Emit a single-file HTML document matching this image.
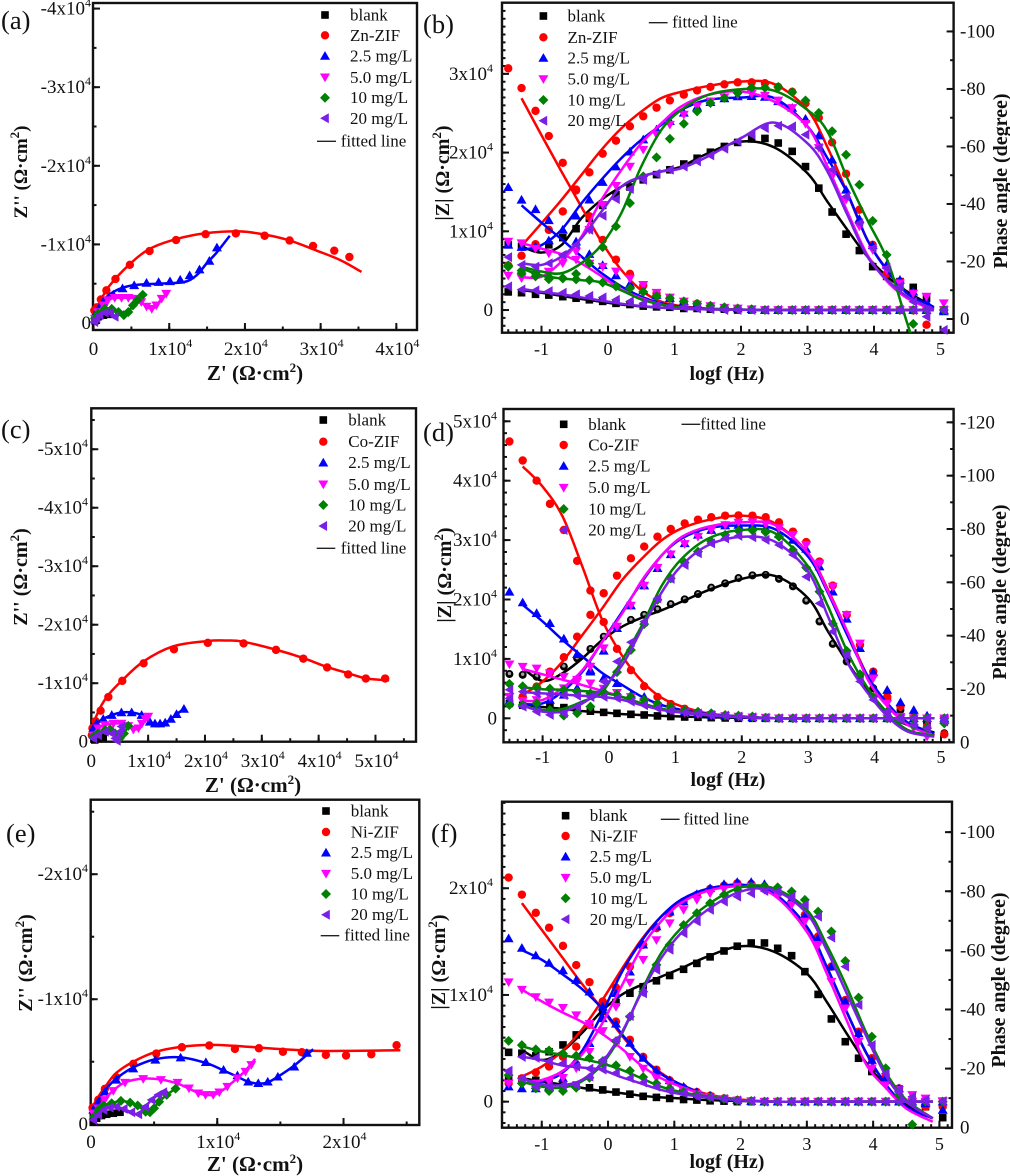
<!DOCTYPE html>
<html lang="en">
<head>
<meta charset="utf-8">
<title>Nyquist and Bode plots for Zn-ZIF, Co-ZIF and Ni-ZIF</title>
<style>
html,body{margin:0;padding:0;background:#fff;}
svg{display:block;font-family:"Liberation Serif",serif;filter:blur(0.35px);}
</style>
</head>
<body>
<svg id="figure" xmlns="http://www.w3.org/2000/svg" width="1010" height="1176" viewBox="0 0 1010 1176"></svg>
<script>
/* ---------- shared frequency grids (log10 Hz) ---------- */
const logf = [-1.5,-1.3,-1.09,-0.89,-0.68,-0.48,-0.28,-0.08,0.12,0.33,0.53,0.73,0.93,1.14,1.34,1.54,1.75,1.95,2.16,2.36,2.56,2.77,2.97,3.17,3.37,3.58,3.78,3.98,4.19,4.39,4.59,4.79,5.05];
const fitLogf = [-1.3,-1,-0.7,-0.4,-0.1,0.2,0.5,0.8,1.1,1.5,2,2.5,3,3.3,3.6,3.9,4.2,4.5,4.9];

/* ---------- tick values ---------- */
const nyquistTicksA = [0,1,2,3,4];
const nyquistTicksC = [0,1,2,3,4,5];
const nyquistTicksE = [0,1,2];
const logfTicks = [-1,0,1,2,3,4,5];
const modulusTicksB = [0,1,2,3];
const modulusTicksD = [0,1,2,3,4,5];
const modulusTicksF = [0,1,2];
const phaseTicksB = [0,-20,-40,-60,-80,-100];
const phaseTicksD = [0,-20,-40,-60,-80,-100,-120];
const phaseTicksF = [0,-20,-40,-60,-80,-100];

/* ---------- panel (a) Nyquist, 10^4 ohm cm2 ---------- */
const aBlankX = [0.02,0.06,0.13,0.22];
const aBlankY = [0.03,0.08,0.1,0.11];
const aZifX = [0.01,0.044,0.097,0.17,0.29,0.48,0.74,1.09,1.48,1.88,2.26,2.59,2.9,3.18,3.38];
const aZifY = [0.16,0.2,0.3,0.415,0.56,0.74,0.915,1.055,1.13,1.14,1.11,1.05,0.98,0.92,0.84];
const aZifFitX = [0.01,0.084,0.216,0.48,0.745,1.1,1.49,1.93,2.29,2.59,2.95,3.26,3.54];
const aZifFitY = [0.1,0.27,0.48,0.75,0.945,1.07,1.144,1.165,1.12,1.05,0.92,0.8,0.65];
const a25X = [0.02,0.062,0.128,0.26,0.383,0.537,0.7,0.86,1.01,1.145,1.27,1.4,1.53,1.63];
const a25Y = [0.1,0.18,0.27,0.36,0.44,0.48,0.51,0.52,0.53,0.55,0.606,0.68,0.79,0.96];
const a25FitX = [0.01,0.13,0.3,0.52,0.83,1.19,1.36,1.49,1.63,1.8];
const a25FitY = [0.08,0.29,0.415,0.48,0.5,0.52,0.606,0.754,0.9,1.11];
const a50X = [0.02,0.06,0.13,0.19,0.28,0.37,0.46,0.55,0.63,0.7,0.77,0.83,0.9,0.96];
const a50Y = [0.055,0.14,0.225,0.29,0.32,0.32,0.32,0.31,0.267,0.21,0.18,0.225,0.31,0.373];
const a10X = [0.02,0.06,0.15,0.24,0.33,0.4,0.46,0.52,0.58,0.65];
const a10Y = [0.055,0.12,0.18,0.18,0.14,0.1,0.14,0.225,0.29,0.36];
const a20X = [0.01,0.04,0.08,0.15,0.22,0.28];
const a20Y = [0.013,0.055,0.1,0.13,0.13,0.08];

/* ---------- panel (c) Nyquist ---------- */
const cBlankX = [0.06,0.12,0.21];
const cBlankY = [0.03,0.06,0.075];
const cZifX = [0.01,0.02,0.076,0.164,0.3,0.545,0.92,1.455,2.05,2.68,3.25,3.73,4.15,4.52,4.83,5.17];
const cZifY = [0.11,0.23,0.35,0.53,0.764,1.04,1.34,1.58,1.69,1.68,1.57,1.42,1.27,1.15,1.08,1.08];
const cZifFitX = [0.006,0.035,0.15,0.3,0.545,0.915,1.44,2.03,2.38,2.67,3.26,3.73,4.14,4.52,4.84,5.24];
const cZifFitY = [0.11,0.29,0.57,0.8,1.05,1.37,1.63,1.72,1.73,1.71,1.57,1.43,1.28,1.17,1.08,1.05];
const c25X = [0.035,0.094,0.21,0.36,0.53,0.71,0.885,1.03,1.12,1.21,1.3,1.4,1.5,1.63];
const c25Y = [0.23,0.31,0.39,0.456,0.5,0.5,0.456,0.34,0.31,0.31,0.325,0.39,0.47,0.56];
const c50X = [0.035,0.12,0.24,0.39,0.53,0.65,0.74,0.83,0.89,0.95,1.0];
const c50Y = [0.11,0.23,0.285,0.31,0.31,0.27,0.21,0.23,0.31,0.39,0.43];
const c10X = [0.035,0.12,0.24,0.33,0.42,0.5,0.575,0.65];
const c10Y = [0.085,0.14,0.2,0.21,0.14,0.057,0.14,0.27];
const c20X = [0.035,0.12,0.24,0.36,0.42,0.45,0.5,0.53];
const c20Y = [0.057,0.11,0.17,0.14,0.057,0.017,0.17,0.26];

/* ---------- panel (e) Nyquist ---------- */
const eBlankX = [0.018,0.045,0.084,0.124,0.177,0.23];
const eBlankY = [0.02,0.048,0.07,0.08,0.088,0.096];
const eZifX = [0.013,0.058,0.11,0.2,0.335,0.517,0.72,0.937,1.14,1.33,1.52,1.67,1.86,2.02,2.22,2.42];
const eZifY = [0.133,0.195,0.283,0.376,0.483,0.565,0.616,0.63,0.603,0.608,0.58,0.576,0.555,0.55,0.56,0.632];
const eZifFitX = [0.013,0.058,0.124,0.2,0.335,0.517,0.72,0.937,1.14,1.33,1.52,1.79,2.05,2.45];
const eZifFitY = [0.14,0.22,0.315,0.41,0.5,0.58,0.62,0.635,0.627,0.613,0.6,0.587,0.587,0.592];
const e25X = [0.018,0.058,0.11,0.2,0.335,0.51,0.71,0.91,1.05,1.16,1.245,1.325,1.4,1.48,1.61,1.71];
const e25Y = [0.115,0.18,0.26,0.355,0.445,0.515,0.533,0.496,0.435,0.39,0.34,0.328,0.34,0.38,0.46,0.57];
const e25FitX = [0.018,0.058,0.11,0.2,0.335,0.51,0.71,0.91,1.05,1.16,1.245,1.325,1.4,1.48,1.61,1.76];
const e25FitY = [0.115,0.19,0.27,0.365,0.455,0.52,0.535,0.49,0.43,0.38,0.34,0.325,0.335,0.38,0.47,0.6];
const e50X = [0.018,0.058,0.11,0.177,0.27,0.414,0.554,0.686,0.776,0.85,0.907,0.968,1.016,1.08,1.16,1.224,1.27];
const e50Y = [0.088,0.128,0.195,0.267,0.333,0.363,0.355,0.333,0.288,0.248,0.235,0.235,0.256,0.301,0.368,0.421,0.475];
const e50FitX = [0.018,0.058,0.11,0.177,0.27,0.414,0.554,0.686,0.776,0.85,0.907,0.968,1.016,1.08,1.16,1.224,1.3];
const e50FitY = [0.088,0.135,0.2,0.27,0.335,0.365,0.358,0.325,0.285,0.25,0.235,0.235,0.255,0.3,0.37,0.43,0.523];
const e10X = [0.026,0.058,0.1,0.164,0.237,0.31,0.37,0.433,0.467,0.5,0.54,0.6,0.67];
const e10Y = [0.06,0.115,0.15,0.168,0.187,0.173,0.15,0.1,0.096,0.128,0.18,0.235,0.285];
const e20X = [0.018,0.058,0.1,0.15,0.2,0.26,0.32,0.375,0.43,0.48,0.533,0.573];
const e20Y = [0.035,0.075,0.115,0.133,0.14,0.123,0.096,0.08,0.14,0.195,0.235,0.256];

/* ---------- panel (b) Bode: |Z| in 10^4, shorter arrays end on the zero baseline ---------- */
const bZBlank = [0.23,0.22,0.2,0.19,0.17,0.15,0.13,0.11,0.085,0.07,0.05,0.04,0.035,0.02,0.02,0.01,0.01];
const bZZif = [3.07,2.82,2.53,2.21,1.87,1.52,1.19,0.89,0.64,0.46,0.31,0.21,0.15,0.1,0.08,0.05,0.03,0.02,0.01];
const bZ25 = [1.56,1.4,1.28,1.14,1.02,0.87,0.71,0.57,0.44,0.33,0.25,0.19,0.15,0.11,0.08,0.05,0.03,0.02,0.01];
const bZ50 = [0.87,0.85,0.78,0.72,0.67,0.64,0.59,0.55,0.49,0.4,0.32,0.22,0.16,0.11,0.07,0.05,0.03,0.02,0.01];
const bZ10 = [0.55,0.5,0.47,0.42,0.4,0.39,0.38,0.35,0.3,0.275,0.23,0.18,0.15,0.11,0.08,0.055,0.035,0.02,0.01];
const bZ20 = [0.3,0.26,0.25,0.24,0.22,0.2,0.18,0.16,0.13,0.11,0.085,0.065,0.05,0.035,0.02,0.01];
const bPhaseBlank = [-25.8,-25.2,-24.6,-25.8,-28.3,-31.4,-35,-39.5,-43.2,-45.9,-48.4,-50.2,-51.9,-53.9,-55.9,-58,-60,-61.4,-62.6,-62.8,-61.2,-58.3,-53,-45.5,-37.2,-29.5,-23.8,-18.2,-14.8,-13,-11,-7.2,-3.1];
const bPhaseZif = [-18.6,-22,-26,-31,-37.4,-45,-51,-57.5,-62,-67,-70.5,-73.5,-76,-78,-79.5,-80.7,-81.6,-82.3,-82.3,-82,-80.7,-79,-75,-70,-61.4,-50.5,-38,-25.8,-15.7,-13,-3,2,-3];
const bPhase25 = [-25.8,-25,-25.2,-27.3,-31,-35.9,-41.5,-47.6,-53,-58.2,-62.4,-65.9,-68.8,-71.7,-73.8,-75.4,-76.7,-77.4,-77.5,-77.2,-75.7,-73.4,-69.6,-63.8,-55.4,-44.9,-34.8,-25.6,-18.8,-13.6,-9.5,-6,-2.6];
const bPhase50 = [-15.1,-14.2,-14.8,-16.5,-19.4,-23.5,-31,-39.7,-46.3,-53,-58.9,-64.1,-67.6,-71.1,-74,-75.7,-77.1,-78,-78.3,-77.7,-76,-73.4,-67.9,-59.5,-49.6,-41.5,-32.2,-24,-17,-12.4,-8.9,-7.8,-5.5];
const bPhase10 = [-18.6,-15.9,-14.8,-13.8,-14.2,-15.7,-19.4,-25,-32.2,-40.3,-49.6,-56.2,-62.7,-67.9,-72.2,-75.1,-76.9,-78.6,-80.4,-80.4,-80.7,-78.9,-76,-71.7,-65.3,-57.1,-46.7,-34.1,-22.3,-10.7,1.7];
const bPhase20 = [-21.5,-18.8,-18.2,-19.4,-22.3,-25.8,-31,-35.9,-41.7,-45.2,-48.4,-50.5,-51.9,-53,-54.8,-56.9,-59.2,-61.8,-64.1,-66.4,-67.2,-67,-64.1,-59.5,-51.9,-42.6,-33.3,-24.6,-17.7,-11.3,-6,-0.8,3.8];
const bFitZBlank = [0.255,0.22,0.18,0.14,0.105,0.07,0.047,0.03,0.017,0.008,0.003];
const bFitZZif = [2.69,2.22,1.76,1.31,0.87,0.51,0.25,0.106,0.05,0.02,0.005];
const bFitZ25 = [1.33,1.11,0.9,0.68,0.47,0.3,0.17,0.085,0.04,0.015,0.005];
const bFitZ50 = [0.85,0.78,0.71,0.59,0.43,0.26,0.15,0.07,0.03,0.015,0.005];
const bFitZ10 = [0.53,0.44,0.4,0.38,0.35,0.25,0.135,0.07,0.03,0.013,0.005];
const bFitZ20 = [0.27,0.23,0.2,0.16,0.12,0.08,0.05,0.03,0.017,0.008,0.003];
const bFitPhaseBlank = [-25.2,-23.1,-25.7,-35,-41.4,-46,-49.5,-51.3,-53,-57.6,-61.7,-59.7,-50.7,-40.8,-31,-21.7,-14.7,-9.5,-4.1];
const bFitPhaseZif = [-25.4,-33.3,-41.4,-50.1,-58.8,-66.3,-72.1,-76.8,-79,-81,-82.6,-81.7,-72.7,-59.7,-43.7,-27.5,-17,-8.9,-3.7];
const bFitPhase25 = [-24,-25.7,-31,-40.2,-48.4,-55.9,-62.3,-67.5,-72.7,-76.2,-77,-76.8,-67,-55.9,-43.7,-27.5,-16.8,-8.9,-4.1];
const bFitPhase50 = [-14.5,-14.7,-20,-28.6,-41.4,-51.8,-61.1,-68,-73.9,-77.9,-79.1,-75.6,-66.9,-53,-37.3,-22.3,-13,-7.2,-3.1];
const bFitPhase10 = [-18.2,-16.5,-15.9,-19.4,-25.7,-36.8,-53,-65.7,-72.7,-77.9,-79.9,-79.4,-72.7,-65.2,-48.9,-34.4,-20.5,1.5,30];
const bFitPhase20 = [-19.4,-18.8,-21.7,-28.1,-37.3,-46,-49.5,-51.3,-52.4,-56.5,-62.9,-68.3,-61.1,-51.3,-36.2,-21.7,-13.6,-7.8,-3.4];

/* ---------- panel (d) Bode ---------- */
const dZBlank = [0.25,0.22,0.2,0.19,0.18,0.16,0.12,0.1,0.084,0.067,0.056,0.04,0.03,0.022,0.017,0.011,0.006];
const dZZif = [4.66,4.34,4.0,3.61,3.17,2.65,2.15,1.62,1.17,0.81,0.54,0.36,0.24,0.16,0.1,0.07,0.045,0.03,0.02,0.01];
const dZ25 = [2.13,1.95,1.77,1.6,1.34,1.08,0.81,0.68,0.59,0.39,0.36,0.25,0.16,0.11,0.08,0.056,0.04,0.03,0.017,0.01];
const dZ50 = [0.91,0.87,0.84,0.76,0.7,0.65,0.59,0.5,0.43,0.36,0.28,0.2,0.14,0.1,0.07,0.056,0.04,0.03,0.017,0.01];
const dZ10 = [0.58,0.54,0.52,0.5,0.48,0.45,0.42,0.44,0.4,0.36,0.31,0.25,0.19,0.14,0.11,0.084,0.056,0.045,0.03,0.01];
const dZ20 = [0.48,0.45,0.42,0.41,0.39,0.38,0.36,0.36,0.34,0.28,0.22,0.17,0.13,0.1,0.08,0.056,0.045,0.03,0.017,0.01];
const dPhaseBlank = [-25.6,-25.3,-24.6,-26.1,-28.4,-31.5,-35,-39.6,-43,-45.9,-47.8,-49.9,-51.8,-53.6,-55.6,-58,-59.6,-61.6,-62.6,-62.8,-61.3,-58.5,-53.1,-45.3,-36.9,-30.3,-25.3,-20.3,-16.5,-12.1,-9.6,-7.1,-3.4];
const dPhaseZif = [-14.3,-17.1,-20.9,-26.5,-31.9,-39.6,-47.8,-55.9,-62.5,-69,-73.4,-77.1,-80,-82.1,-83.5,-84.4,-85,-85.1,-85,-84.4,-82.5,-79,-75.1,-67.8,-58.8,-47.8,-36.5,-26.5,-17.1,-13.4,-9.6,-5.9,-3];
const dPhase25 = [-15.5,-14.6,-14,-15.9,-17.8,-20.3,-26.5,-34.3,-42.8,-51.3,-58.8,-65.3,-70.5,-74.6,-77.8,-79.6,-81.3,-81.5,-81.3,-80.3,-78,-75.9,-72.5,-65.9,-56.5,-46.3,-35.3,-26.3,-19.6,-15,-12.1,-10,-8.4];
const dPhase50 = [-17.1,-15.5,-15.9,-17.1,-20.3,-22.8,-28.4,-35.3,-43.4,-51.3,-58.8,-65.5,-70.5,-74.4,-77.1,-79.6,-81.5,-82.4,-82.5,-81.8,-80.3,-77.8,-74,-67.1,-58.4,-47.8,-37.1,-24,-14.6,-9.6,-5.3,-2.1,-8.4];
const dPhase10 = [-14,-14,-14.6,-12.1,-10,-10.9,-13.4,-18.4,-26.3,-34.6,-44.3,-53.4,-61.5,-67.4,-71.5,-75.3,-77.8,-79.3,-79.5,-78.8,-77.1,-72.1,-65.5,-56.5,-44.4,-34.3,-25.5,-17.1,-11.5,-8.4,-6.5,-5.3,-7.1];
const dPhase20 = [-16.5,-13.4,-11.5,-10.3,-10.9,-13.4,-17.1,-22.8,-30.3,-37.5,-45.3,-54,-61.3,-66.5,-70.9,-74.6,-76.5,-77.4,-76.9,-75.9,-74,-70.3,-62.1,-52.1,-41.5,-32.8,-22.8,-15.9,-11.5,-8.4,-6.5,-5.3,-7.8];
const dFitZBlank = [0.22,0.19,0.16,0.12,0.1,0.07,0.056,0.04,0.03,0.017,0.01];
const dFitZZif = [4.24,3.9,3.4,2.55,1.65,1.05,0.62,0.34,0.2,0.08,0.03];
const dFitZ25 = [1.91,1.63,1.32,1.04,0.76,0.56,0.36,0.22,0.14,0.07,0.03];
const dFitZ50 = [0.83,0.74,0.65,0.56,0.46,0.36,0.25,0.16,0.11,0.06,0.02];
const dFitZ10 = [0.52,0.49,0.48,0.46,0.43,0.36,0.25,0.16,0.1,0.05,0.02];
const dFitZ20 = [0.44,0.42,0.4,0.38,0.36,0.31,0.22,0.14,0.095,0.05,0.02];
const dFitPhaseBlank = [-27.8,-23,-25.9,-31.5,-38.4,-43.4,-46.8,-49.6,-52.8,-57.1,-61.3,-62.4,-54,-41.5,-29.6,-19,-10.2,-6.5,-3.7];
const dFitPhaseZif = [-17.8,-22.8,-30.3,-40.3,-50.3,-60.9,-69,-75.9,-80.3,-83.4,-85,-82.1,-70.9,-57.1,-40.9,-24.6,-14,-7.1,-2.7];
const dFitPhase25 = [-14.3,-14.6,-19,-26.5,-37.8,-49,-60.3,-70.3,-76.5,-80.3,-81.3,-79.9,-69.6,-55.9,-39.6,-24.6,-14.4,-7.4,-3.3];
const dFitPhase50 = [-15.5,-15.9,-20.3,-27.1,-37.8,-48.4,-60.9,-70.3,-77.1,-80.9,-82.5,-81.5,-70.9,-56.5,-40.9,-23.4,-13.3,-6.5,-2.4];
const dFitPhase10 = [-13.8,-12.1,-12.5,-15.3,-19,-30.9,-44,-59,-69,-76.5,-79.6,-78.4,-65.9,-50.9,-33.4,-20.2,-10.9,-4.6,-2.4];
const dFitPhase20 = [-13.8,-11.5,-11.5,-14.6,-20.3,-29,-42.8,-56.5,-66.5,-74,-77.1,-75.2,-64,-47.1,-29.6,-18.4,-9.6,-4,-2.1];

/* ---------- panel (f) Bode ---------- */
const fZBlank = [0.22,0.21,0.2,0.19,0.17,0.155,0.13,0.11,0.09,0.07,0.05,0.04,0.03,0.02,0.015,0.008,0.005];
const fZZif = [2.1,1.94,1.77,1.63,1.46,1.28,1.12,0.93,0.75,0.58,0.42,0.3,0.2,0.13,0.09,0.056,0.03,0.015,0.006];
const fZ25 = [1.53,1.44,1.37,1.3,1.23,1.14,1.03,0.89,0.73,0.55,0.41,0.29,0.2,0.14,0.09,0.056,0.03,0.015,0.006];
const fZ50 = [1.12,1.05,0.98,0.93,0.88,0.81,0.73,0.66,0.55,0.42,0.31,0.22,0.16,0.1,0.07,0.044,0.025,0.012,0.006];
const fZ10 = [0.57,0.53,0.49,0.48,0.45,0.43,0.41,0.38,0.34,0.29,0.23,0.17,0.125,0.09,0.06,0.04,0.025,0.012,0.006];
const fZ20 = [0.29,0.42,0.41,0.38,0.36,0.33,0.31,0.3,0.27,0.22,0.18,0.14,0.1,0.08,0.05,0.04,0.025,0.012,0.006];
const fPhaseBlank = [-25.5,-25.2,-24.3,-25.7,-28,-31.4,-35,-39.3,-42.4,-45.5,-47.7,-49.7,-51.5,-53.6,-55.6,-57.8,-59.8,-61.4,-62.5,-62.5,-60.7,-58.2,-52.8,-45.1,-36.8,-29.1,-23.5,-19,-16.1,-13.1,-9.4,-7.1,-3.4];
const fPhaseZif = [-15,-16.7,-18.7,-20.7,-24,-27.4,-34.8,-42.7,-47.4,-54.5,-61.9,-67.5,-72.6,-76.5,-78.8,-80.8,-81.9,-82.7,-82.5,-81.6,-79.3,-76.5,-72,-64.7,-54.5,-43.2,-32.5,-23.5,-17.8,-13.3,-9.4,-7.1,-7.1];
const fPhase25 = [-13.9,-13.3,-13.3,-13.9,-16.7,-22.3,-28.6,-37,-45.5,-52.8,-61.9,-68.1,-73.1,-76.5,-79,-81,-82.4,-83.1,-83.1,-82.4,-79.9,-77.1,-71.8,-64.1,-54.5,-42.7,-31.9,-22.9,-16.7,-13.3,-9.9,-8.2,-6];
const fPhase50 = [-15,-15.6,-15,-15.6,-16.9,-20.1,-25.7,-32.7,-40.9,-49.1,-56.8,-63.5,-69.2,-73.7,-77.1,-79.3,-80.7,-81.6,-81.6,-80.5,-78.8,-75.4,-69.8,-61.9,-49.4,-40.4,-29.1,-20.1,-14.4,-12.8,-11.1,-9.9,-9];
const fPhase10 = [-17.8,-15,-13.3,-12.4,-12.4,-13.5,-16.9,-21.8,-29.3,-37.6,-46,-55.1,-61.9,-68.6,-72.6,-76,-78.8,-80.5,-81.6,-81.6,-81.3,-79.9,-77.1,-73.1,-66.4,-56.4,-44,-30.8,-20.1,-11.1,-1.1];
const fPhase20 = [-19,-16.7,-13.9,-13.9,-14.4,-14.4,-17.3,-22.9,-29.7,-37.8,-45.5,-53.4,-60.2,-65.8,-69.8,-73.7,-76.5,-78.2,-79.3,-80.1,-79.9,-78.2,-75.4,-71.4,-64.3,-54.5,-41.5,-28,-18.4,-12.8,-10.5,-9.4,-9];
const fFitZBlank = [0.22,0.19,0.16,0.13,0.1,0.08,0.056,0.04,0.03,0.016,0.006];
const fFitZZif = [1.86,1.61,1.36,1.11,0.875,0.625,0.42,0.27,0.16,0.07,0.02];
const fFitZ25 = [1.42,1.33,1.2,1.06,0.88,0.64,0.42,0.26,0.16,0.06,0.015];
const fFitZ50 = [1.05,0.94,0.84,0.75,0.64,0.5,0.34,0.22,0.14,0.06,0.015];
const fFitZ10 = [0.52,0.47,0.44,0.4,0.36,0.3,0.22,0.14,0.09,0.05,0.015];
const fFitZ20 = [0.42,0.39,0.34,0.32,0.3,0.23,0.17,0.11,0.07,0.04,0.012];
const fFitPhaseBlank = [-26.3,-22.9,-25.7,-31.9,-39.3,-44.9,-48.3,-51.1,-53.9,-57.9,-61.4,-59.6,-52.2,-42.6,-31.9,-21.8,-13.9,-7.7,-3.2];
const fFitPhaseZif = [-17.3,-20.7,-25.7,-33.1,-42.7,-53.4,-63.5,-71.4,-76.5,-80.5,-82.2,-79.1,-67.8,-54.3,-39.1,-25,-14.4,-7.1,-3.2];
const fFitPhase25 = [-15.2,-15.6,-18.4,-25.7,-38.1,-52.3,-63,-71.4,-77.1,-80.8,-82.2,-79.3,-68,-54.5,-39.3,-25.2,-14.4,-7.1,-3.2];
const fFitPhase50 = [-15,-16.1,-19,-24.6,-34.8,-47.7,-60.7,-69.8,-76,-80.1,-81.6,-78.7,-66.3,-52.2,-36.4,-21.2,-13.3,-6.5,-2];
const fFitPhase10 = [-15.6,-13.9,-13.5,-15.6,-21.2,-31.4,-46,-59,-67.5,-75.4,-81.3,-81,-73.7,-61.8,-47.7,-31.9,-18.4,-9.4,-3.2];
const fFitPhase20 = [-16.7,-14.7,-14.4,-16.1,-21.8,-31.9,-45.5,-57.3,-65.8,-73.7,-79.9,-80.4,-72.5,-60.1,-45.5,-30.8,-17.3,-8.8,-3.2];

/* ---------- styling ---------- */
const NS = 'http://www.w3.org/2000/svg';
const svg = document.getElementById('figure');
const COLORS = ['#000000','#ff0000','#0000ff','#ff00ff','#008000','#7a1fe6'];
const SHAPES = ['square','circle','up','down','diamond','left'];
const SLUGS = ['blank','zif','2-5-mg-l','5-0-mg-l','10-mg-l','20-mg-l'];

function make(parent, tag, attrs, text) {
  const e = document.createElementNS(NS, tag);
  for (const k in attrs) e.setAttribute(k, attrs[k]);
  if (text !== undefined) e.textContent = text;
  parent.appendChild(e);
  return e;
}
function scale(d0, d1, r0, r1) { return v => r0 + (v - d0) * (r1 - r0) / (d1 - d0); }

function marker(parent, shape, x, y, color, name) {
  let e;
  if (shape === 'square') e = make(parent, 'rect', {x:x-3.8, y:y-3.8, width:7.6, height:7.6, fill:color});
  else if (shape === 'circle') e = make(parent, 'circle', {cx:x, cy:y, r:4.2, fill:color});
  else if (shape === 'sphere') {
    e = make(parent, 'g', {});
    make(e, 'circle', {cx:x, cy:y, r:4, fill:color});
    make(e, 'circle', {cx:x, cy:y-0.6, r:1.7, fill:'#a0a0a0'});
  }
  else {
    let p;
    if (shape === 'up') p = [[x,y-4.9],[x+5,y+3.8],[x-5,y+3.8]];
    if (shape === 'down') p = [[x,y+4.9],[x+5,y-3.8],[x-5,y-3.8]];
    if (shape === 'left') p = [[x-4.9,y],[x+3.8,y-5],[x+3.8,y+5]];
    if (shape === 'diamond') p = [[x,y-5],[x+5,y],[x,y+5],[x-5,y]];
    e = make(parent, 'polygon', {points:p.map(q => q.join(',')).join(' '), fill:color});
  }
  
  
  return e;
}

function smoothPath(pts) {
  let d = 'M' + pts[0][0].toFixed(2) + ' ' + pts[0][1].toFixed(2);
  for (let i = 0; i < pts.length - 1; i++) {
    const p0 = pts[i-1] || pts[i], p1 = pts[i], p2 = pts[i+1], p3 = pts[i+2] || p2;
    const c1 = [p1[0] + (p2[0]-p0[0])/6, p1[1] + (p2[1]-p0[1])/6];
    const c2 = [p2[0] - (p3[0]-p1[0])/6, p2[1] - (p3[1]-p1[1])/6];
    d += 'C' + [c1[0],c1[1],c2[0],c2[1],p2[0],p2[1]].map(n => n.toFixed(2)).join(' ');
  }
  return d;
}

function fitLine(parent, pts, color, clipId, name) {
  const e = make(parent, 'path', {d:smoothPath(pts), fill:'none', stroke:color, 'stroke-width':2.5, 'stroke-linejoin':'round', 'clip-path':'url(#' + clipId + ')'});
  
  
}

function powerLabel(parent, x, y, anchor, prefix, mant, name) {
  const t = make(parent, 'text', {x:x, y:y, 'text-anchor':anchor, 'font-size':19, fill:'#111'});
  
  
  if (mant === 0) { t.textContent = '0'; return t; }
  make(t, 'tspan', {}, prefix + mant + 'x10');
  make(t, 'tspan', {dy:-8, 'font-size':12}, '4');
  return t;
}

function title(parent, x, y, rotate, before, sup, after, name, size) {
  const t = make(parent, 'text', {x:x, y:y, 'text-anchor':'middle', 'font-size':size || 20, 'font-weight':'bold', fill:'#111'});
  if (rotate) t.setAttribute('transform', 'rotate(-90 ' + x + ' ' + y + ')');
  
  
  make(t, 'tspan', {}, before);
  if (sup) {
    make(t, 'tspan', {dy:-8, 'font-size':13}, sup);
    make(t, 'tspan', {dy:8}, after);
  }
}

function frameAndClip(g, id, f) {
  const defs = make(g, 'defs', {});
  const c = make(defs, 'clipPath', {id:id});
  make(c, 'rect', {x:f.l, y:f.t, width:f.r-f.l, height:f.b-f.t});
  const box = make(g, 'rect', {x:f.l, y:f.t, width:f.r-f.l, height:f.b-f.t, fill:'none', stroke:'#111', 'stroke-width':2.4});
  
  
}

function ticks(g, side, f, scaleFn, majors, minorStep, axisName) {
  const group = make(g, 'g', {stroke:'#111', 'stroke-width':2});
  
  
  const draw = (p, len) => {
    if (side === 'left') make(group, 'line', {x1:f.l, x2:f.l+len, y1:p, y2:p});
    if (side === 'right') make(group, 'line', {x1:f.r, x2:f.r-len, y1:p, y2:p});
    if (side === 'bottom') make(group, 'line', {x1:p, x2:p, y1:f.b, y2:f.b-len});
  };
  const lo = side === 'bottom' ? f.l : f.t, hi = side === 'bottom' ? f.r : f.b;
  const start = majors[0], sign = majors[1] > majors[0] ? 1 : -1;
  for (let s = -60; s < 400; s++) {
    const v = start + sign * s * minorStep, p = scaleFn(v);
    if (p > lo + 1 && p < hi - 1) draw(p, 3.5);
  }
  majors.forEach(m => draw(scaleFn(m), 7));
}

function legend(g, L, zifName) {
  const names = ['blank', zifName, '2.5 mg/L', '5.0 mg/L', '10 mg/L', '20 mg/L'];
  names.forEach((n, i) => {
    marker(g, SHAPES[i], L.mx, L.ys[i], COLORS[i], 'legend-marker-' + SLUGS[i]);
    const t = make(g, 'text', {x:L.tx, y:L.ys[i]+5.5, 'font-size':17, fill:'#111'}, n);
    
    
  });
  const dash = make(g, 'line', {x1:L.d0, x2:L.d1, y1:L.dy, y2:L.dy, stroke:'#222', 'stroke-width':1.4});
  
  
  const ft = make(g, 'text', {x:L.dtx, y:L.dy+5, 'font-size':17, fill:'#111'}, 'fitted line');
  
  
}

function panelLabel(g, P) {
  const t = make(g, 'text', {x:P.lx, y:P.ly, 'font-size':26.5, fill:'#111'}, P.label);
  
  
}

/* ---------- Nyquist panel ---------- */
function nyquist(P) {
  const g = make(svg, 'g', {});
  
  
  const f = P.frame, clip = 'clip-' + P.id;
  const sx = scale(P.xd[0], P.xd[1], f.l, f.r), sy = scale(P.yd[0], P.yd[1], f.b, f.t);
  frameAndClip(g, clip, f);
  ticks(g, 'bottom', f, sx, P.ticks, 0.5, 'x-axis-ticks');
  ticks(g, 'left', f, sy, P.yticks, 0.5, 'y-axis-ticks');
  P.series.forEach((S, i) => {
    S.x.forEach((v, k) => marker(g, SHAPES[i], sx(v), sy(S.y[k]), COLORS[i], 'point-' + SLUGS[i]));
    const fx = S.fx || S.x, fy = S.fy || S.y;
    fitLine(g, fx.map((v, k) => [sx(v), sy(fy[k])]), COLORS[i], clip, 'fit-line-' + SLUGS[i]);
  });
  P.ticks.forEach(v => powerLabel(g, sx(v) + (v === 0 ? 0 : 1), P.xlabY, 'middle', '', v, 'x-tick-label'));
  P.yticks.forEach(v => powerLabel(g, P.ylabX, sy(v) + 6, 'end', '-', v, 'y-tick-label'));
  title(g, P.xt[0], P.xt[1], false, "Z' (Ω·cm", '2', ')', 'x-axis-title', 21);
  title(g, P.yt[0], P.yt[1], true, "Z'' (Ω·cm", '2', ')', 'y-axis-title', P.ytSize);
  legend(g, P.legend, P.zif);
  panelLabel(g, P);
}

/* ---------- Bode panel ---------- */
function bode(P) {
  const g = make(svg, 'g', {});
  
  
  const f = P.frame, clip = 'clip-' + P.id;
  const sx = scale(P.xd[0], P.xd[1], f.l, f.r);
  const sz = scale(P.zd[0], P.zd[1], f.b, f.t);
  const sp = scale(P.pd[0], P.pd[1], f.b, f.t);
  frameAndClip(g, clip, f);
  ticks(g, 'bottom', f, sx, logfTicks, 0.125, 'x-axis-ticks');
  ticks(g, 'left', f, sz, P.zticks, P.zminor, 'modulus-axis-ticks');
  ticks(g, 'right', f, sp, P.pticks, 10, 'phase-axis-ticks');
  P.series.forEach((S, i) => {
    logf.forEach((l, k) => {
      const z = S.z[k] === undefined ? 0 : S.z[k];
      marker(g, SHAPES[i], sx(l), sz(z), COLORS[i], 'modulus-point-' + SLUGS[i]);
      if (S.p[k] !== undefined) {
        marker(g, (i === 0 && P.sphere) ? 'sphere' : SHAPES[i], sx(l), sp(S.p[k]), COLORS[i], 'phase-point-' + SLUGS[i]);
      }
    });
    fitLine(g, fitLogf.map((l, k) => [sx(l), sz(S.fz[k] === undefined ? 0 : S.fz[k])]), COLORS[i], clip, 'modulus-fit-line-' + SLUGS[i]);
    fitLine(g, fitLogf.map((l, k) => [sx(l), sp(S.fp[k])]), COLORS[i], clip, 'phase-fit-line-' + SLUGS[i]);
  });
  logfTicks.forEach(v => {
    const t = make(g, 'text', {x:sx(v), y:P.xlabY, 'text-anchor':'middle', 'font-size':18, fill:'#111'}, String(v));
    
    
  });
  P.zticks.forEach(v => powerLabel(g, P.zlabX, sz(v) + 6, 'end', '', v, 'modulus-tick-label'));
  P.pticks.forEach(v => {
    const t = make(g, 'text', {x:960, y:sp(v) + 6, 'font-size':19, fill:'#111'}, String(v));
    
    
  });
  title(g, P.xt[0], P.xt[1], false, 'logf (Hz)', null, null, 'x-axis-title');
  title(g, P.zt[0], P.zt[1], true, '|Z| (Ω·cm', '2', ')', 'modulus-axis-title');
  title(g, P.pt[0], P.pt[1], true, 'Phase angle (degree)', null, null, 'phase-axis-title');
  legend(g, P.legend, P.zif);
  panelLabel(g, P);
}

/* ---------- panels ---------- */
nyquist({id:'a', label:'(a)', lx:1, ly:29, zif:'Zn-ZIF', ytSize:19,
  frame:{l:93,r:417,t:3,b:330}, xd:[-0.007,4.273], yd:[-0.089,4.071],
  ticks:nyquistTicksA, yticks:nyquistTicksA, xlabY:355, ylabX:91, xt:[255,380], yt:[27,172],
  legend:{mx:325, tx:350, ys:[15,35.3,56,77.3,97.7,118.3], d0:317, d1:336, dy:141.3, dtx:340.7},
  series:[
    {x:aBlankX,y:aBlankY},{x:aZifX,y:aZifY,fx:aZifFitX,fy:aZifFitY},{x:a25X,y:a25Y,fx:a25FitX,fy:a25FitY},
    {x:a50X,y:a50Y},{x:a10X,y:a10Y},{x:a20X,y:a20Y}]});

nyquist({id:'c', label:'(c)', lx:1, ly:438, zif:'Co-ZIF', ytSize:20,
  frame:{l:91.3,r:416,t:408.3,b:741.7}, xd:[0,5.713], yd:[0,5.7],
  ticks:nyquistTicksC, yticks:nyquistTicksC, xlabY:767, ylabX:88, xt:[253,792], yt:[27,577],
  legend:{mx:323.3, tx:348.3, ys:[420,441.7,462.7,484.3,505,526], d0:316.7, d1:335.3, dy:548.3, dtx:340.7},
  series:[
    {x:cBlankX,y:cBlankY},{x:cZifX,y:cZifY,fx:cZifFitX,fy:cZifFitY},{x:c25X,y:c25Y},
    {x:c50X,y:c50Y},{x:c10X,y:c10Y},{x:c20X,y:c20Y}]});

nyquist({id:'e', label:'(e)', lx:6, ly:842, zif:'Ni-ZIF', ytSize:20,
  frame:{l:90.7,r:419.3,t:799.7,b:1125}, xd:[-0.002,2.6], yd:[-0.006,2.596],
  ticks:nyquistTicksE, yticks:nyquistTicksE, xlabY:1148, ylabX:88, xt:[255,1171], yt:[32,963],
  legend:{mx:326, tx:350.7, ys:[811,832,852.7,873.7,894,914.7], d0:320.7, d1:339.3, dy:935.7, dtx:344.3},
  series:[
    {x:eBlankX,y:eBlankY},{x:eZifX,y:eZifY,fx:eZifFitX,fy:eZifFitY},{x:e25X,y:e25Y,fx:e25FitX,fy:e25FitY},
    {x:e50X,y:e50Y,fx:e50FitX,fy:e50FitY},{x:e10X,y:e10Y},{x:e20X,y:e20Y}]});

bode({id:'b', label:'(b)', lx:423, ly:33, zif:'Zn-ZIF', zlabX:493,
  frame:{l:502,r:953.6,t:2.7,b:332.7}, xd:[-1.594,5.197], zd:[-0.288,3.904], pd:[4.77,-110],
  zticks:modulusTicksB, zminor:0.1, pticks:phaseTicksB, xlabY:355, xt:[727,380], zt:[449,173], pt:[1007,181],
  legend:{mx:543.4, tx:567.5, ys:[16,37.3,58,79,100,120.7], d0:648.8, d1:667.6, dy:22.7, dtx:672.1},
  series:[
    {z:bZBlank,p:bPhaseBlank,fz:bFitZBlank,fp:bFitPhaseBlank},
    {z:bZZif,p:bPhaseZif,fz:bFitZZif,fp:bFitPhaseZif},
    {z:bZ25,p:bPhase25,fz:bFitZ25,fp:bFitPhase25},
    {z:bZ50,p:bPhase50,fz:bFitZ50,fp:bFitPhase50},
    {z:bZ10,p:bPhase10,fz:bFitZ10,fp:bFitPhase10},
    {z:bZ20,p:bPhase20,fz:bFitZ20,fp:bFitPhase20}]});

bode({id:'d', label:'(d)', lx:423, ly:441, zif:'Co-ZIF', sphere:true, zlabX:497,
  frame:{l:503.5,r:953.6,t:409,b:742.3}, xd:[-1.589,5.19], zd:[-0.404,5.207], pd:[0,-125],
  zticks:modulusTicksD, zminor:0.2, pticks:phaseTicksD, xlabY:763, xt:[728,786], zt:[451,575], pt:[1006,592],
  legend:{mx:563.7, tx:588.2, ys:[424.3,445,466,487.7,509,530], d0:681.5, d1:700.3, dy:424.3, dtx:700.3},
  series:[
    {z:dZBlank,p:dPhaseBlank,fz:dFitZBlank,fp:dFitPhaseBlank},
    {z:dZZif,p:dPhaseZif,fz:dFitZZif,fp:dFitPhaseZif},
    {z:dZ25,p:dPhase25,fz:dFitZ25,fp:dFitPhase25},
    {z:dZ50,p:dPhase50,fz:dFitZ50,fp:dFitPhase50},
    {z:dZ10,p:dPhase10,fz:dFitZ10,fp:dFitPhase10},
    {z:dZ20,p:dPhase20,fz:dFitZ20,fp:dFitPhase20}]});

bode({id:'f', label:'(f)', lx:431, ly:842, zif:'Ni-ZIF', zlabX:493,
  frame:{l:502,r:952,t:801.7,b:1127.7}, xd:[-1.6,5.19], zd:[-0.244,2.811], pd:[0,-110.3],
  zticks:modulusTicksF, zminor:0.1, pticks:phaseTicksF, xlabY:1150, xt:[727,1168], zt:[445,962], pt:[1005,980],
  legend:{mx:565.6, tx:589.7, ys:[815.7,836,856.7,877.7,898.3,919.3], d0:660.8, d1:679.6, dy:819.3, dtx:683.4},
  series:[
    {z:fZBlank,p:fPhaseBlank,fz:fFitZBlank,fp:fFitPhaseBlank},
    {z:fZZif,p:fPhaseZif,fz:fFitZZif,fp:fFitPhaseZif},
    {z:fZ25,p:fPhase25,fz:fFitZ25,fp:fFitPhase25},
    {z:fZ50,p:fPhase50,fz:fFitZ50,fp:fFitPhase50},
    {z:fZ10,p:fPhase10,fz:fFitZ10,fp:fFitPhase10},
    {z:fZ20,p:fPhase20,fz:fFitZ20,fp:fFitPhase20}]});
</script>
</body>
</html>
